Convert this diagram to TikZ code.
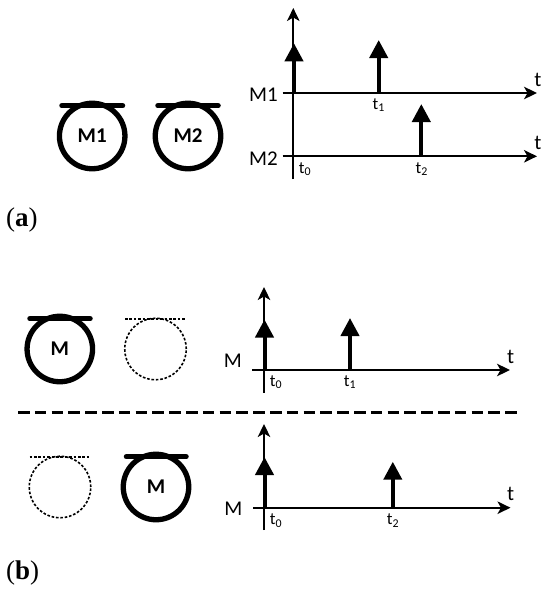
\documentclass[tikz,border=0pt]{standalone}
\usepackage{fontspec}
\setmainfont{Carlito}
\usetikzlibrary{arrows.meta}
\newfontfamily\capfont{Liberation Serif}
\tikzset{
  motor/.style={circle,draw=black,line width=5.3pt,minimum size=65.5pt,inner sep=0pt,font=\bfseries\fontsize{21}{21}\selectfont},
  ghost/.style={circle,draw=black,line width=1.6pt,dash pattern=on 2.6pt off 1.8pt,minimum size=61.5pt,inner sep=0pt},
  barline/.style={line width=5.5pt,line cap=round},
  ghostbar/.style={line width=1.6pt,dash pattern=on 2.6pt off 1.8pt},
  axisline/.style={line width=1.7pt,-{Stealth[length=13pt,width=12.5pt,inset=3.5pt]}},
  pulse/.style={line width=4pt,-{Triangle[length=18pt,width=18pt]}},
  lab/.style={inner sep=0pt,font=\fontsize{21}{21}\selectfont},
  tlab/.style={inner sep=0pt,font=\fontsize{17}{17}\selectfont},
  caplab/.style={inner sep=0pt,anchor=west,font=\capfont\fontsize{27}{27}\selectfont},
  sep/.style={line width=3.5pt,dash pattern=on 11.5pt off 5.3pt}
}
\begin{document}
\begin{tikzpicture}[x=1pt,y=-1pt]
\useasboundingbox (0,0) rectangle (550,592);
% (a) motors
\node[motor] (m1) at (92.2,136) {M1};
\node[motor] (m2) at (188,136) {M2};
\coordinate (m1l) at (62,105.7); \coordinate (m1r) at (122.5,105.7);
\coordinate (m2l) at (158,105.7); \coordinate (m2r) at (218,105.7);
\draw[barline] (m1l) -- (m1r);
\draw[barline] (m2l) -- (m2r);
% (a) axes
\coordinate (ay0) at (293.3,179); \coordinate (ay1) at (293.3,8);
\coordinate (ax0) at (282.7,93);  \coordinate (ax1) at (537,93);
\coordinate (bx0) at (282.7,156.3); \coordinate (bx1) at (537,156.3);
\draw[axisline] (ay0) -- (ay1);
\draw[axisline] (ax0) -- (ax1);
\draw[axisline] (bx0) -- (bx1);
\coordinate (p0a) at (294,93);  \coordinate (p0b) at (294,43.3);
\coordinate (p1a) at (378.7,93);  \coordinate (p1b) at (378.7,40);
\coordinate (p2a) at (421.3,156.3); \coordinate (p2b) at (421.3,104);
\draw[pulse] (p0a) -- (p0b);
\draw[pulse] (p1a) -- (p1b);
\draw[pulse] (p2a) -- (p2b);
\node[lab,anchor=east] (lm1) at (278,95) {M1};
\node[lab,anchor=east] (lm2) at (278,158.5) {M2};
\node[lab] (t1a) at (538,80) {t};
\node[lab] (t2a) at (538,143) {t};
\node[tlab] (a0) at (305,169) {t\textsubscript{0}};
\node[tlab] (a1) at (378.7,105) {t\textsubscript{1}};
\node[tlab] (a2) at (421.7,169) {t\textsubscript{2}};
\node[caplab] (capa) at (6,220) {(\textbf{a})};
% (b) top
\node[motor] (m3) at (59.8,349) {M};
\node[ghost] (g3) at (155.5,349) {};
\coordinate (m3l) at (30,318.7); \coordinate (m3r) at (90,318.7);
\coordinate (g3l) at (125,318.7); \coordinate (g3r) at (185.5,318.7);
\draw[barline] (m3l) -- (m3r);
\draw[ghostbar] (g3l) -- (g3r);
\coordinate (cy0) at (264,392.7); \coordinate (cy1) at (264,287);
\coordinate (cx0) at (252,370); \coordinate (cx1) at (510,370);
\draw[axisline] (cy0) -- (cy1);
\draw[axisline] (cx0) -- (cx1);
\coordinate (p3a) at (264.5,370); \coordinate (p3b) at (264.5,319.5);
\coordinate (p4a) at (350,370); \coordinate (p4b) at (350,318);
\draw[pulse] (p3a) -- (p3b);
\draw[pulse] (p4a) -- (p4b);
\node[lab,anchor=east] (lm3) at (242,361) {M};
\node[lab] (t3) at (510.6,357) {t};
\node[tlab] (c0) at (276,382) {t\textsubscript{0}};
\node[tlab] (c1) at (350,382) {t\textsubscript{1}};
% separator
\coordinate (s0) at (18,412.7); \coordinate (s1) at (521,412.7);
\draw[sep] (s0) -- (s1);
% (b) bottom
\node[ghost] (g4) at (60,487) {};
\node[motor] (m4) at (156,487) {M};
\coordinate (g4l) at (29.6,456.7); \coordinate (g4r) at (90,456.7);
\coordinate (m4l) at (126.5,456.7); \coordinate (m4r) at (186,456.7);
\draw[ghostbar] (g4l) -- (g4r);
\draw[barline] (m4l) -- (m4r);
\coordinate (dy0) at (264,530); \coordinate (dy1) at (264,424);
\coordinate (dx0) at (253,507.7); \coordinate (dx1) at (510.5,507.7);
\draw[axisline] (dy0) -- (dy1);
\draw[axisline] (dx0) -- (dx1);
\coordinate (p5a) at (264.5,507.7); \coordinate (p5b) at (264.5,457);
\coordinate (p6a) at (392.8,507.7); \coordinate (p6b) at (392.8,461.7);
\draw[pulse] (p5a) -- (p5b);
\draw[pulse] (p6a) -- (p6b);
\node[lab,anchor=east] (lm4) at (242.6,509) {M};
\node[lab] (t4) at (510.6,494) {t};
\node[tlab] (d0) at (276,520.7) {t\textsubscript{0}};
\node[tlab] (d2) at (393,520.7) {t\textsubscript{2}};
\node[caplab] (capb) at (6,572.5) {(\textbf{b})};
\end{tikzpicture}
\end{document}
